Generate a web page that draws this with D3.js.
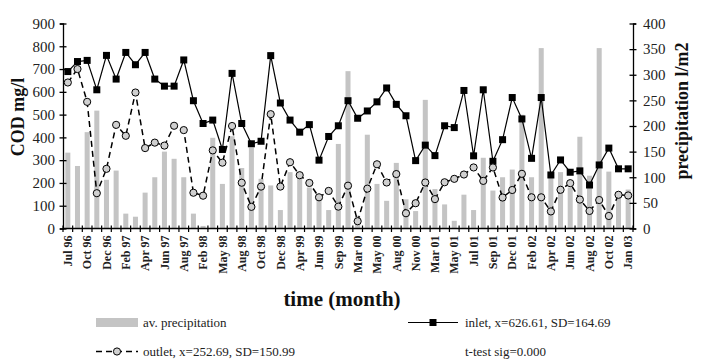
<!DOCTYPE html>
<html><head><meta charset="utf-8">
<script src="https://cdn.jsdelivr.net/npm/d3@7"></script>
<style>body{margin:0;background:#fff}svg{display:block;font-family:"Liberation Serif","Times New Roman",serif}</style>
</head><body><svg id="c" width="708" height="360"></svg>
<script>
const tickLabels = ["Jul 96","Oct 96","Dec 96","Feb 97","Apr 97","Jun 97","Aug 97","Feb 98","May 98","Aug 98","Oct 98","Dec 98","Apr 99","Jun 99","Sep 99","Mar 00","May 00","Aug 00","Nov 00","Mar 01","May 01","Jul 01","Sep 01","Dec 01","Feb 02","Apr 02","Jun 02","Aug 02","Oct 02","Jan 03"];
const precipitation = [148,122,188,230,95,113,29,23,70,100,150,136,100,29,5,177,87,180,118,158,97,84,36,110,98,80,55,36,165,307,25,183,87,54,128,57,34,251,77,47,15,66,36,138,74,100,115,222,100,352,100,110,80,179,103,352,111,60,76];
const inlet = [689,733,738,609,760,656,773,719,773,656,625,625,740,561,461,476,347,681,461,372,383,759,551,476,423,456,300,404,451,561,484,516,556,617,545,495,298,366,320,451,443,606,319,609,295,390,575,481,308,575,235,301,247,253,191,279,353,262,262];
const outlet = [641,700,556,155,262,455,407,597,353,377,364,451,432,157,144,343,289,450,201,95,184,502,184,291,234,200,137,165,96,188,32,175,282,202,239,67,111,202,129,203,218,237,268,209,268,136,169,240,137,137,75,170,199,127,77,125,55,148,145];
const leftTicks = [0,100,200,300,400,500,600,700,800,900];
const rightTicks = [0,50,100,150,200,250,300,350,400];

const svg = d3.select("#c");
const L=63, R=633, T=23.5, B=228.5;
const n = inlet.length;
const x = d3.scaleBand().domain(d3.range(n)).range([L,R]).paddingInner(0.48).paddingOuter(0.24);
const xc = i => x(i) + x.bandwidth()/2;
const step = (R-L)/n;
const yL = d3.scaleLinear().domain([0,900]).range([B,T]);
const yR = d3.scaleLinear().domain([0,400]).range([B,T]);

// bars
svg.append("g").selectAll("rect").data(precipitation).join("rect")
  .attr("x",(d,i)=>x(i)).attr("width",x.bandwidth())
  .attr("y",d=>yR(d)).attr("height",d=>B-yR(d)).attr("fill","#c4c4c4");

// axes
const ga = svg.append("g").attr("transform",`translate(${L},0)`).call(d3.axisLeft(yL).tickValues(leftTicks).tickSize(3).tickPadding(5).tickFormat(d3.format("d")));
const gb = svg.append("g").attr("transform",`translate(${R},0)`).call(d3.axisRight(yR).tickValues(rightTicks).tickSize(3).tickPadding(7).tickFormat(d3.format("d")));
[ga,gb].forEach(g=>{
  g.select(".domain").attr("stroke","#000").attr("stroke-width",1.3);
  g.selectAll(".tick line").attr("x1",-3.5).attr("x2",3.5).attr("stroke-width",1.3);
  g.selectAll(".tick text").attr("font-size",15).attr("font-family","Liberation Serif").attr("fill","#222");
});
// x axis
svg.append("line").attr("x1",L).attr("x2",R).attr("y1",B).attr("y2",B).attr("stroke","#000").attr("stroke-width",1.3);
svg.append("g").selectAll("line").data(d3.range(n+1)).join("line")
  .attr("x1",i=>L+i*step).attr("x2",i=>L+i*step).attr("y1",B-3).attr("y2",B+3.5)
  .attr("stroke","#000").attr("stroke-width",1.2);
svg.append("g").selectAll("text").data(tickLabels).join("text")
  .attr("transform",(d,k)=>`translate(${xc(k*2)},${B+7}) rotate(-90)`)
  .attr("text-anchor","end").attr("dy","0.35em")
  .attr("font-size",12).attr("font-weight","bold").attr("fill","#222").text(d=>d);

// inlet line
const lineL = d3.line().x((d,i)=>xc(i)).y(d=>yL(d));
svg.append("path").datum(inlet).attr("d",lineL).attr("fill","none").attr("stroke","#000").attr("stroke-width",1.2);
svg.append("g").selectAll("rect").data(inlet).join("rect")
  .attr("x",(d,i)=>xc(i)-3.5).attr("y",d=>yL(d)-3.5).attr("width",7).attr("height",7).attr("fill","#000");

// outlet line
svg.append("path").datum(outlet).attr("d",lineL).attr("fill","none").attr("stroke","#000").attr("stroke-width",1.5).attr("stroke-dasharray","6,4");
svg.append("g").selectAll("circle").data(outlet).join("circle")
  .attr("cx",(d,i)=>xc(i)).attr("cy",d=>yL(d)).attr("r",3.6).attr("fill","#d0d0d0").attr("stroke","#000").attr("stroke-width",1);

// titles
svg.append("text").attr("transform","translate(24,117) rotate(-90)").attr("text-anchor","middle")
  .attr("font-size",18).attr("font-weight","bold").attr("fill","#111").text("COD mg/l");
svg.append("text").attr("transform","translate(688,111) rotate(-90)").attr("text-anchor","middle")
  .attr("font-size",18).attr("font-weight","bold").attr("fill","#111").text("precipitation l/m2");
svg.append("text").attr("x",342).attr("y",306).attr("text-anchor","middle")
  .attr("font-size",21).attr("font-weight","bold").attr("fill","#111").text("time (month)");

// legend
const lg = svg.append("g").attr("font-size",13).attr("fill","#222");
lg.append("rect").attr("x",96).attr("y",318).attr("width",42).attr("height",9).attr("fill","#c4c4c4");
lg.append("text").attr("x",143).attr("y",327).text("av. precipitation");
lg.append("line").attr("x1",408).attr("x2",458).attr("y1",322.5).attr("y2",322.5).attr("stroke","#000").attr("stroke-width",1.2);
lg.append("rect").attr("x",429.5).attr("y",319).attr("width",7).attr("height",7).attr("fill","#000");
lg.append("text").attr("x",465).attr("y",327).text("inlet, x=626.61, SD=164.69");
lg.append("line").attr("x1",96).attr("x2",138).attr("y1",351.5).attr("y2",351.5).attr("stroke","#000").attr("stroke-width",1.5).attr("stroke-dasharray","6,4");
lg.append("circle").attr("cx",117).attr("cy",351.5).attr("r",3.6).attr("fill","#d0d0d0").attr("stroke","#000");
lg.append("text").attr("x",143).attr("y",356).text("outlet, x=252.69, SD=150.99");
lg.append("text").attr("x",465).attr("y",356).text("t-test sig=0.000");
</script></body></html>
